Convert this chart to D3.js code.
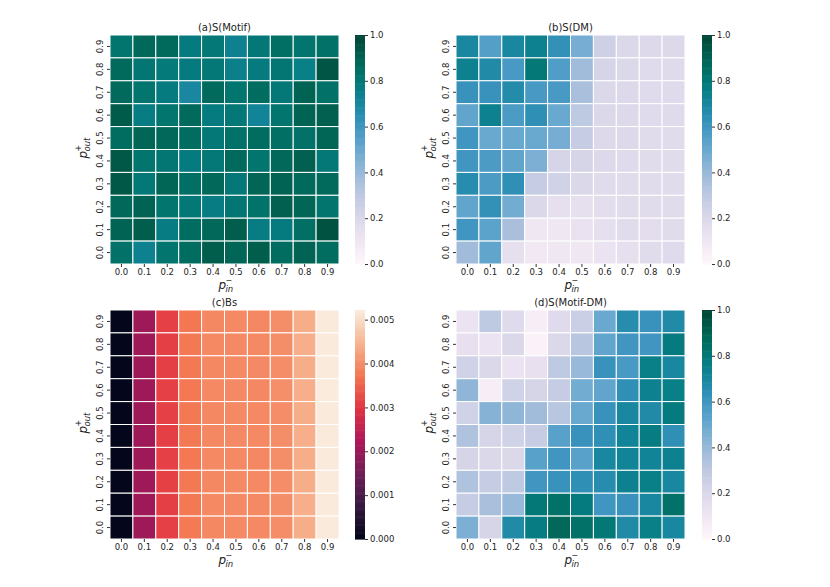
<!DOCTYPE html>
<html>
<head>
<meta charset="utf-8">
<script src="https://cdn.jsdelivr.net/npm/d3@7"></script>
<style>
  body { margin: 0; background: #fff; }
  svg text { font-family: "DejaVu Sans", sans-serif; fill: #222; }
</style>
</head>
<body>
<svg id="chart" width="830" height="587"></svg>
<script>
// tick labels shared by every panel
const pIn = ["0.0", "0.1", "0.2", "0.3", "0.4", "0.5", "0.6", "0.7", "0.8", "0.9"];
const pOut = ["0.9", "0.8", "0.7", "0.6", "0.5", "0.4", "0.3", "0.2", "0.1", "0.0"]; // top to bottom

// rows listed top (p_out=0.9) to bottom (p_out=0.0)
const sMotif = [
  [0.82, 0.88, 0.87, 0.78, 0.80, 0.74, 0.80, 0.85, 0.82, 0.84],
  [0.87, 0.81, 0.79, 0.78, 0.80, 0.75, 0.78, 0.81, 0.76, 0.95],
  [0.87, 0.82, 0.78, 0.70, 0.87, 0.82, 0.86, 0.80, 0.90, 0.84],
  [0.93, 0.77, 0.82, 0.87, 0.78, 0.80, 0.72, 0.82, 0.90, 0.91],
  [0.86, 0.89, 0.88, 0.86, 0.80, 0.84, 0.86, 0.85, 0.84, 0.89],
  [0.94, 0.82, 0.81, 0.78, 0.80, 0.87, 0.82, 0.88, 0.91, 0.80],
  [0.94, 0.80, 0.89, 0.85, 0.88, 0.80, 0.89, 0.90, 0.87, 0.87],
  [0.88, 0.90, 0.82, 0.80, 0.77, 0.81, 0.83, 0.91, 0.89, 0.82],
  [0.90, 0.92, 0.77, 0.86, 0.88, 0.92, 0.77, 0.78, 0.85, 0.96],
  [0.84, 0.74, 0.82, 0.86, 0.92, 0.89, 0.92, 0.86, 0.90, 0.86]
];
const sDM = [
  [0.70, 0.55, 0.70, 0.74, 0.63, 0.47, 0.25, 0.20, 0.19, 0.19],
  [0.74, 0.68, 0.58, 0.80, 0.56, 0.38, 0.22, 0.20, 0.18, 0.18],
  [0.62, 0.62, 0.67, 0.58, 0.58, 0.36, 0.20, 0.19, 0.18, 0.18],
  [0.52, 0.74, 0.57, 0.64, 0.50, 0.30, 0.20, 0.19, 0.18, 0.18],
  [0.60, 0.50, 0.50, 0.50, 0.47, 0.28, 0.19, 0.19, 0.17, 0.17],
  [0.60, 0.57, 0.52, 0.46, 0.22, 0.22, 0.19, 0.18, 0.17, 0.17],
  [0.66, 0.57, 0.64, 0.28, 0.24, 0.20, 0.17, 0.17, 0.17, 0.17],
  [0.52, 0.63, 0.48, 0.20, 0.15, 0.15, 0.16, 0.17, 0.17, 0.17],
  [0.60, 0.53, 0.36, 0.10, 0.10, 0.13, 0.15, 0.17, 0.16, 0.17],
  [0.38, 0.52, 0.15, 0.09, 0.10, 0.10, 0.12, 0.15, 0.17, 0.18]
];
const bs = [
  [0.00002, 0.00205, 0.00313, 0.00374, 0.00395, 0.00396, 0.00395, 0.00402, 0.00440, 0.00520],
  [0.00002, 0.00204, 0.00312, 0.00376, 0.00396, 0.00397, 0.00396, 0.00402, 0.00441, 0.00521],
  [0.00002, 0.00205, 0.00312, 0.00377, 0.00395, 0.00396, 0.00397, 0.00401, 0.00440, 0.00520],
  [0.00002, 0.00204, 0.00313, 0.00375, 0.00396, 0.00397, 0.00395, 0.00403, 0.00441, 0.00522],
  [0.00002, 0.00206, 0.00313, 0.00377, 0.00395, 0.00396, 0.00396, 0.00401, 0.00440, 0.00521],
  [0.00002, 0.00205, 0.00312, 0.00376, 0.00395, 0.00397, 0.00396, 0.00402, 0.00441, 0.00520],
  [0.00002, 0.00204, 0.00313, 0.00375, 0.00396, 0.00396, 0.00395, 0.00402, 0.00440, 0.00521],
  [0.00002, 0.00205, 0.00314, 0.00376, 0.00395, 0.00396, 0.00396, 0.00401, 0.00440, 0.00521],
  [0.00002, 0.00206, 0.00312, 0.00377, 0.00396, 0.00397, 0.00396, 0.00402, 0.00441, 0.00520],
  [0.00002, 0.00205, 0.00313, 0.00378, 0.00395, 0.00396, 0.00396, 0.00401, 0.00440, 0.00521]
];
const sMotifDM = [
  [0.12, 0.30, 0.18, 0.06, 0.18, 0.26, 0.50, 0.66, 0.62, 0.68],
  [0.14, 0.12, 0.20, 0.03, 0.20, 0.32, 0.52, 0.60, 0.60, 0.78],
  [0.24, 0.20, 0.12, 0.14, 0.30, 0.40, 0.62, 0.58, 0.76, 0.70],
  [0.42, 0.06, 0.24, 0.22, 0.28, 0.48, 0.52, 0.64, 0.74, 0.76],
  [0.24, 0.44, 0.42, 0.38, 0.32, 0.50, 0.62, 0.70, 0.68, 0.78],
  [0.34, 0.22, 0.24, 0.28, 0.54, 0.62, 0.64, 0.72, 0.77, 0.64],
  [0.22, 0.20, 0.20, 0.54, 0.60, 0.54, 0.70, 0.72, 0.72, 0.74],
  [0.34, 0.28, 0.30, 0.60, 0.62, 0.64, 0.66, 0.74, 0.76, 0.70],
  [0.28, 0.36, 0.40, 0.80, 0.84, 0.78, 0.60, 0.62, 0.70, 0.84],
  [0.46, 0.22, 0.68, 0.77, 0.88, 0.84, 0.80, 0.68, 0.76, 0.70]
];
const unitTicks = [0, 0.2, 0.4, 0.6, 0.8, 1.0];
const bsTicks = [0, 0.001, 0.002, 0.003, 0.004, 0.005];

// seaborn "rocket" approximated from its sampled palette
const rocket = d3.piecewise(d3.interpolateRgb, ["#03051a", "#35193e", "#701f57", "#ad1759", "#e13342", "#f37651", "#f6b48f", "#faebdd"]);

const svg = d3.select("#chart");

const panels = [
  { title: "(a)S(Motif)", data: sMotif, x: 110, y: 35, interp: d3.interpolatePuBuGn, domain: [0, 1], ticks: unitTicks, fmt: d3.format(".1f"), cbx: 355 },
  { title: "(b)S(DM)", data: sDM, x: 456, y: 35, interp: d3.interpolatePuBuGn, domain: [0, 1], ticks: unitTicks, fmt: d3.format(".1f"), cbx: 702 },
  { title: "(c)Bs", data: bs, x: 110, y: 310, interp: rocket, domain: [0, d3.max(bs.flat())], ticks: bsTicks, fmt: d3.format(".3f"), cbx: 355 },
  { title: "(d)S(Motif-DM)", data: sMotifDM, x: 456, y: 310, interp: d3.interpolatePuBuGn, domain: [0, 1], ticks: unitTicks, fmt: d3.format(".1f"), cbx: 702 }
];

const size = 229;
const cbW = 10;

// italic p with stacked sub/superscript, like matplotlib mathtext
function mathLabel(g, sub, sup) {
  g.append("text").attr("x", 0).attr("y", 0)
    .style("font-style", "italic").style("font-size", "12px").text("p");
  g.append("text").attr("x", 7).attr("y", 3)
    .style("font-style", "italic").style("font-size", "8.5px").text(sub);
  g.append("text").attr("x", 7).attr("y", -6)
    .style("font-size", "8px").text(sup);
}

panels.forEach(p => {
  const g = svg.append("g").attr("transform", `translate(${p.x},${p.y})`);
  const x = d3.scaleBand().domain(pIn).range([0, size]);
  const y = d3.scaleBand().domain(pOut).range([0, size]);
  const color = d3.scaleSequential(p.interp).domain(p.domain);

  const cells = [];
  p.data.forEach((row, i) => row.forEach((v, j) => cells.push({ r: pOut[i], c: pIn[j], v })));

  g.append("g").selectAll("rect").data(cells).join("rect")
    .attr("x", d => x(d.c)).attr("y", d => y(d.r))
    .attr("width", x.bandwidth()).attr("height", y.bandwidth())
    .attr("fill", d => color(d.v))
    .attr("stroke", "#fff").attr("stroke-width", 1);

  // x axis
  const xa = g.append("g").attr("transform", `translate(0,${size})`)
    .call(d3.axisBottom(x).tickSize(3).tickPadding(2));
  xa.select(".domain").remove();
  xa.selectAll("text").style("font-size", "8.5px").style("font-family", "DejaVu Sans");
  xa.selectAll("line").attr("stroke", "#333");

  // y axis, labels rotated
  const ya = g.append("g").call(d3.axisLeft(y).tickSize(3).tickPadding(2));
  ya.select(".domain").remove();
  ya.selectAll("line").attr("stroke", "#333");
  ya.selectAll(".tick text")
    .style("font-size", "8.5px").style("font-family", "DejaVu Sans")
    .attr("text-anchor", "middle")
    .attr("transform", "rotate(-90)").attr("x", 0).attr("y", -7).attr("dy", "0");

  // title
  g.append("text").attr("x", size / 2).attr("y", -4)
    .attr("text-anchor", "middle").style("font-size", "10px").text(p.title);

  // axis labels
  mathLabel(g.append("g").attr("transform", `translate(${size / 2 - 6},${size + 25})`), "in", "\u2212");
  mathLabel(g.append("g").attr("transform", `translate(-23,${size / 2 + 9}) rotate(-90)`), "out", "+");

  // colorbar
  const cb = svg.append("g").attr("transform", `translate(${p.cbx},${p.y})`);
  const cy = d3.scaleLinear().domain(p.domain).range([size, 0]);
  const steps = d3.range(0, 1.0001, 1 / 200);
  cb.selectAll("rect").data(steps.slice(0, -1)).join("rect")
    .attr("x", 0).attr("width", cbW)
    .attr("y", d => size - (d + 1 / 200) * size)
    .attr("height", size / 200 + 0.6)
    .attr("fill", d => color(p.domain[0] + (d + 0.5 / 200) * (p.domain[1] - p.domain[0])));
  const ca = cb.append("g").attr("transform", `translate(${cbW},0)`)
    .call(d3.axisRight(cy).tickValues(p.ticks).tickFormat(p.fmt).tickSize(3).tickPadding(2));
  ca.select(".domain").remove();
  ca.selectAll("line").attr("stroke", "#333");
  ca.selectAll("text").style("font-size", "8.5px").style("font-family", "DejaVu Sans");
});
</script>
</body>
</html>
